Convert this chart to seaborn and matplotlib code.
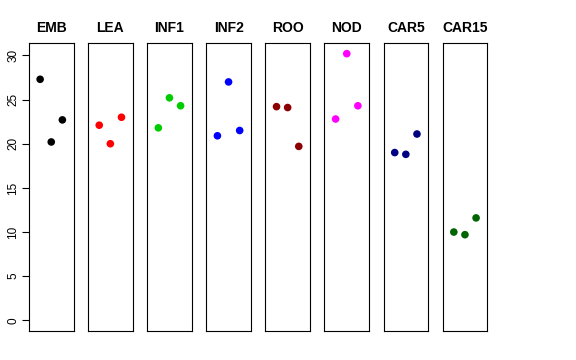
import pandas as pd
import matplotlib
matplotlib.use('Agg')
import matplotlib.pyplot as plt
import seaborn as sns

# tissues and the three replicate values per tissue
tissues = ['EMB', 'LEA', 'INF1', 'INF2', 'ROO', 'NOD', 'CAR5', 'CAR15']
rep1 = [27.3, 22.1, 21.8, 20.9, 24.2, 22.8, 19.0, 10.0]
rep2 = [20.2, 20.0, 25.2, 27.0, 24.1, 30.2, 18.8, 9.7]
rep3 = [22.7, 23.0, 24.3, 21.5, 19.7, 24.3, 21.1, 11.6]
colors = ['black', 'red', '#00CD00', 'blue', '#8B0000', 'magenta', '#000080', '#006400']

rows = []
for i, t in enumerate(tissues):
    for j, v in enumerate([rep1[i], rep2[i], rep3[i]]):
        rows.append({'tissue': t, 'rep': j + 1, 'value': v})
df = pd.DataFrame(rows)

sns.set_style('white')
plt.rcParams['font.family'] = ['Liberation Sans', 'DejaVu Sans']
plt.rcParams['text.color'] = 'black'
plt.rcParams['ytick.color'] = 'black'
plt.rcParams['axes.labelcolor'] = 'black'

fig = plt.figure(figsize=(5.76, 3.6), dpi=100)

ymax = df['value'].max()
ylim = (-0.04 * ymax, ymax * 1.04)

left0 = 29 / 576
width = 44.5 / 576
pitch = 59.1 / 576
bottom = 29 / 360
height = 288 / 360

for i, t in enumerate(tissues):
    ax = fig.add_axes([left0 + i * pitch, bottom, width, height])
    sub = df[df['tissue'] == t]
    sns.scatterplot(data=sub, x='rep', y='value', color=colors[i], s=30,
                    edgecolor='none', ax=ax, legend=False)
    ax.set_xlim(0, 4)
    ax.set_ylim(*ylim)
    ax.set_xticks([])
    ax.set_xlabel('')
    ax.set_ylabel('')
    ax.set_title(t, fontsize=10, fontweight='bold', pad=8, color='black')
    for sp in ax.spines.values():
        sp.set_visible(True)
        sp.set_color('black')
        sp.set_linewidth(0.8)
    if i == 0:
        ax.set_yticks([0, 5, 10, 15, 20, 25, 30])
        ax.tick_params(axis='y', left=True, length=5, width=0.8, labelsize=8.5,
                       direction='out', pad=2, color='black', labelcolor='black')
        for lab in ax.get_yticklabels():
            lab.set_rotation(90)
            lab.set_va('center')
    else:
        ax.set_yticks([])

fig.savefig('out.png', dpi=100)
